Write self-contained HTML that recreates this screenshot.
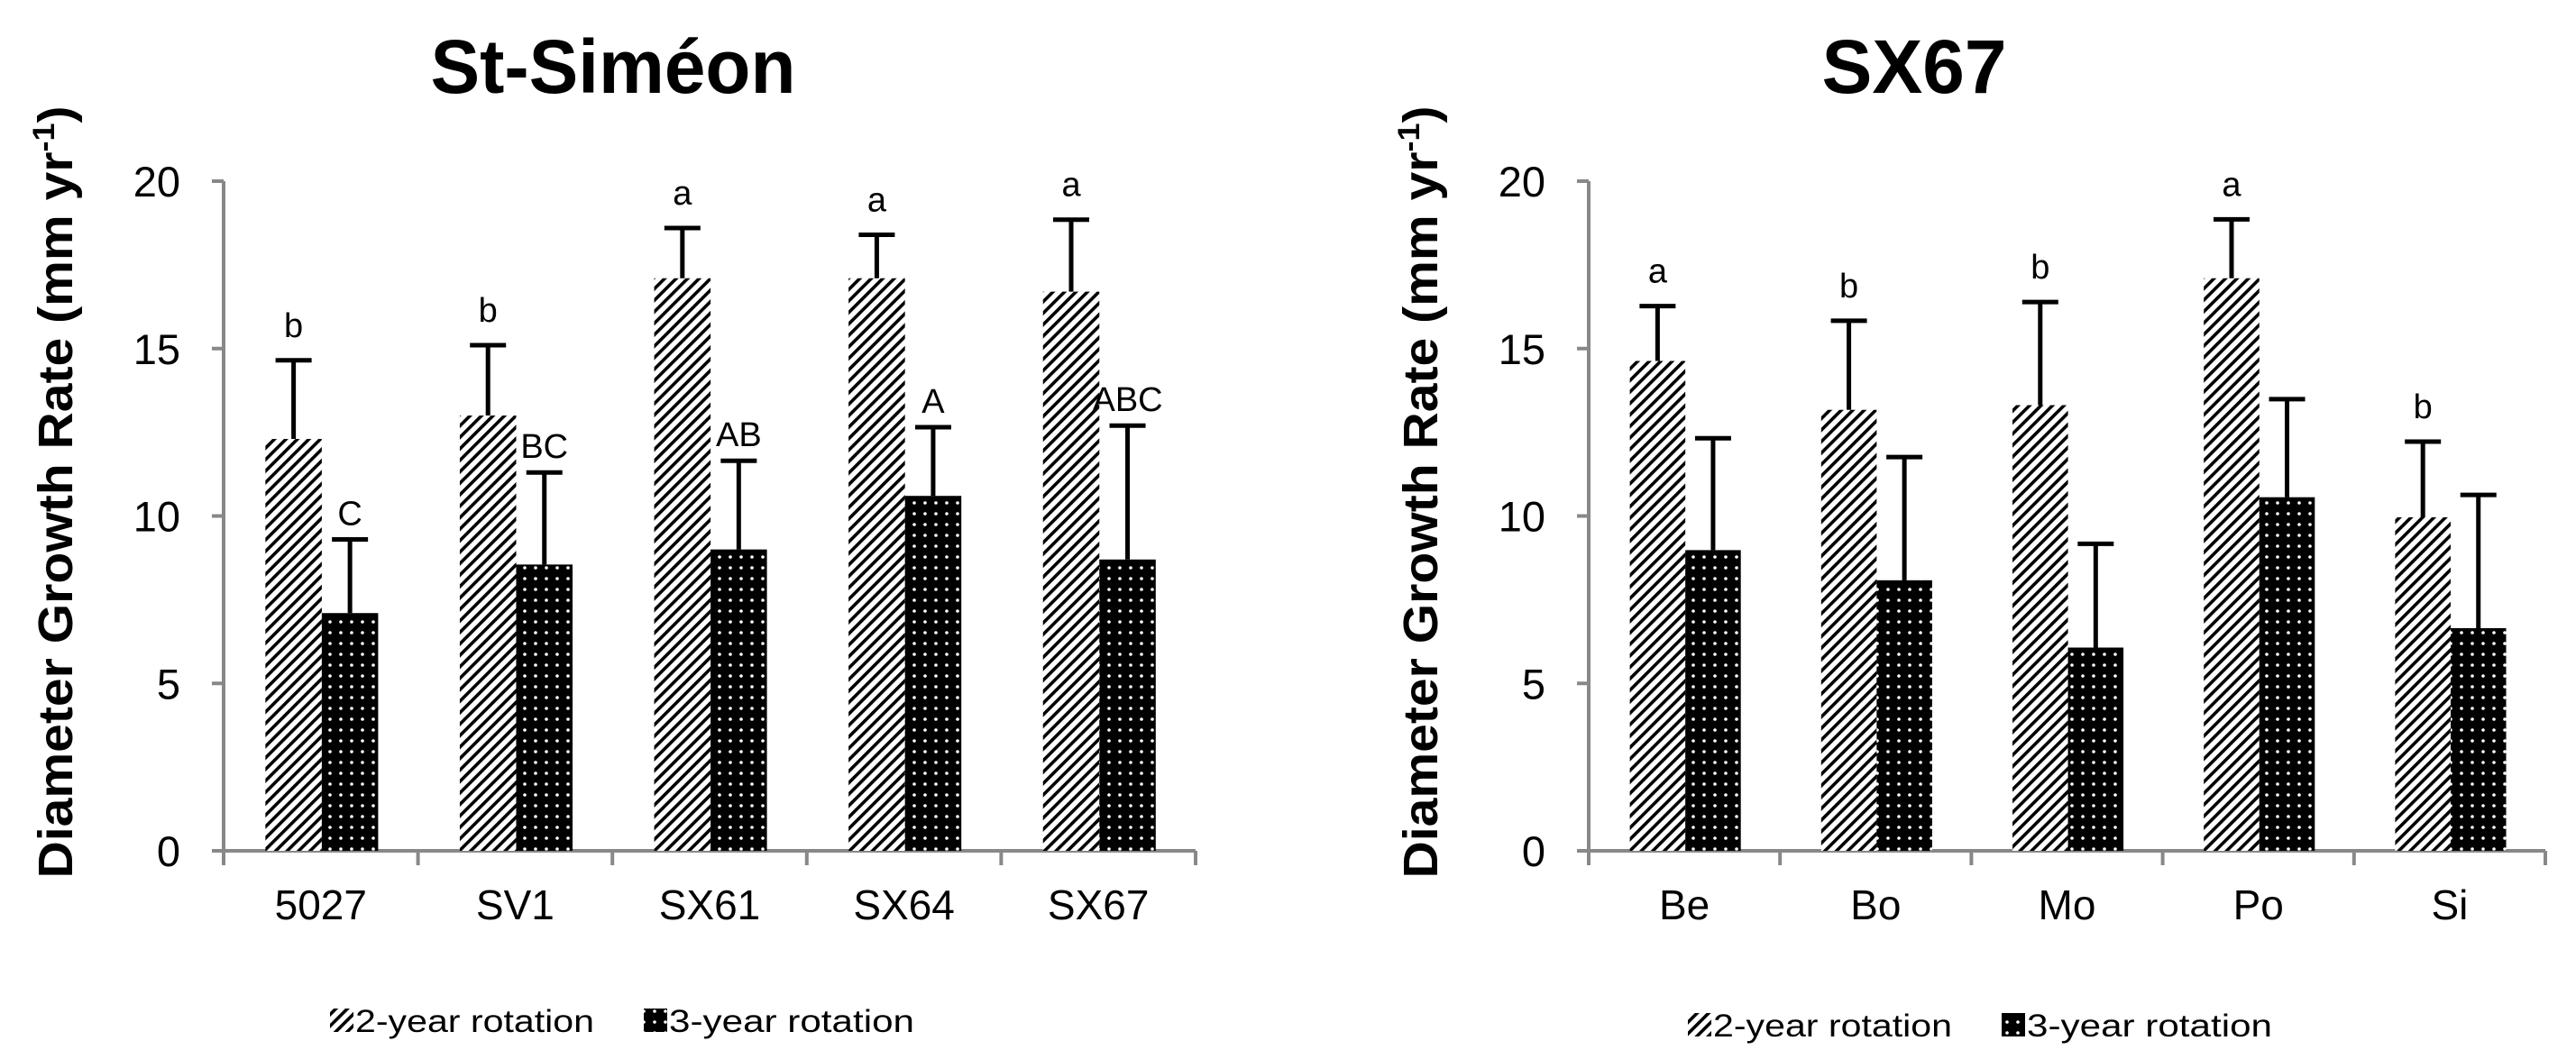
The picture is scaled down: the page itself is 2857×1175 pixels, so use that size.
<!DOCTYPE html>
<html><head><meta charset="utf-8"><style>
html,body{margin:0;padding:0;background:#fff;}
svg{display:block;font-family:"Liberation Sans",sans-serif;}
</style></head><body>
<svg id="chart" width="2857" height="1175" viewBox="0 0 2857 1175" xmlns="http://www.w3.org/2000/svg">
<defs>
<pattern id="hatch" patternUnits="userSpaceOnUse" width="9" height="9" patternTransform="rotate(45)">
<rect width="9" height="9" fill="#fff"/><rect x="0" y="0" width="3.6" height="9" fill="#000"/>
</pattern>
<pattern id="dots" patternUnits="userSpaceOnUse" width="12" height="12">
<rect width="12" height="12" fill="#000"/><circle cx="6" cy="6" r="1.8" fill="#fff"/>
</pattern>
</defs>
</svg>
<script>
const leftCats=["5027","SV1","SX61","SX64","SX67"];
const left2=[12.3,13.0,17.1,17.1,16.7];
const left2Err=[14.65,15.1,18.6,18.4,18.85];
const left3=[7.1,8.55,9.0,10.6,8.7];
const left3Err=[9.3,11.3,11.65,12.65,12.7];
const left2Lab=["b","b","a","a","a"];
const left3Lab=["C","BC","AB","A","ABC"];
const rightCats=["Be","Bo","Mo","Po","Si"];
const right2=[14.63,13.17,13.31,17.1,9.96];
const right2Err=[16.27,15.83,16.39,18.86,12.22];
const right3=[8.98,8.08,6.07,10.56,6.65];
const right3Err=[12.32,11.76,9.17,13.49,10.63];
const right2Lab=["a","b","b","a","b"];
const right3Lab=["","","","",""];
const yTicks=[0,5,10,15,20];

const NS="http://www.w3.org/2000/svg";
const svg=document.getElementById('chart');
function mk(tag,attrs,parent,text){const e=document.createElementNS(NS,tag);for(const k in attrs)e.setAttribute(k,attrs[k]);if(text!==undefined)e.textContent=text;(parent||svg).appendChild(e);return e;}

function drawPanel(p){
  const g=mk('g',{});
  
  
  const y0=944,y20=201;
  const ys=v=>y0-(v/20)*(y0-y20);
  const cw=(p.x1-p.x0)/p.cats.length;
  const t=mk('text',{x:p.titleX,y:103,'text-anchor':'middle','font-size':84,'font-weight':'bold',textLength:p.titleLen,lengthAdjust:'spacingAndGlyphs'},g,p.title);
  
  
  const yt=mk('text',{transform:`translate(${p.x0-168},546) rotate(-90)`,'text-anchor':'middle','font-size':54,'font-weight':'bold',textLength:857,lengthAdjust:'spacingAndGlyphs'},g);
  
  
  mk('tspan',{},yt,'Diameter Growth Rate (mm yr');
  mk('tspan',{dy:-20,'font-size':34},yt,'-1');
  mk('tspan',{dy:20},yt,')');
  const ya=mk('line',{x1:p.x0,y1:y20,x2:p.x0,y2:y0,stroke:'#888',"stroke-width":4},g);
  
  
  yTicks.forEach(v=>{
    mk('line',{x1:p.x0-13,x2:p.x0,y1:ys(v),y2:ys(v),stroke:'#888','stroke-width':4},g);
    const tl=mk('text',{x:p.x0-48,y:ys(v)+17,'text-anchor':'end','font-size':47},g,String(v));
    
    
  });
  const xa=mk('line',{x1:p.x0,y1:y0,x2:p.x1,y2:y0,stroke:'#888','stroke-width':4},g);
  
  
  for(let i=0;i<=p.cats.length;i++){
    mk('line',{x1:p.x0+i*cw,x2:p.x0+i*cw,y1:y0,y2:y0+16,stroke:'#888','stroke-width':4},g);
  }
  const bw=cw*0.29;
  p.cats.forEach((c,i)=>{
    const cx=p.x0+i*cw;
    const xl=mk('text',{x:cx+cw/2,y:y0+76,'text-anchor':'middle','font-size':46},g,c);
    
    
    [[p.v2,p.e2,p.l2,'url(#hatch)',cx+cw*0.215],[p.v3,p.e3,p.l3,'url(#dots)',cx+cw*0.215+bw]].forEach((s,k)=>{
      const v=s[0][i],e=s[1][i],lab=s[2][i],bx=s[4];
      const b=mk('rect',{x:bx,y:ys(v),width:bw,height:y0-ys(v),fill:s[3]},g);
      
      
      const m=bx+bw/2;
      const eb=mk('path',{d:`M${m},${ys(v)}V${ys(e)}M${m-20},${ys(e)}H${m+20}`,stroke:'#000','stroke-width':5,fill:'none'},g);
      
      
      if(lab){
        const lt=mk('text',{x:m,y:ys(e)-(k?16:26),'text-anchor':'middle','font-size':38},g,lab);
        
        
      }
    });
  });
  const lg=mk('g',{},g);
  
  
  const ly=p.ly;
  mk('rect',{x:p.lx,y:ly-14,width:26,height:26,fill:'url(#hatch)'},lg);
  mk('text',{x:p.lx+28,y:ly+12,'font-size':35,textLength:265,lengthAdjust:'spacingAndGlyphs'},lg,'2-year rotation');
  mk('rect',{x:p.lx+348,y:ly-14,width:26,height:26,fill:'url(#dots)'},lg);
  mk('text',{x:p.lx+376,y:ly+12,'font-size':35,textLength:272,lengthAdjust:'spacingAndGlyphs'},lg,'3-year rotation');
}
drawPanel({name:'panel-st-simeon',title:'St-Siméon',titleX:680,titleLen:405,x0:248,x1:1326,cats:leftCats,v2:left2,e2:left2Err,l2:left2Lab,v3:left3,e3:left3Err,l3:left3Lab,lx:366,ly:1133});
drawPanel({name:'panel-sx67',title:'SX67',titleX:2123,titleLen:205,x0:1762,x1:2823,cats:rightCats,v2:right2,e2:right2Err,l2:right2Lab,v3:right3,e3:right3Err,l3:right3Lab,lx:1872,ly:1138});
</script>
</body></html>
